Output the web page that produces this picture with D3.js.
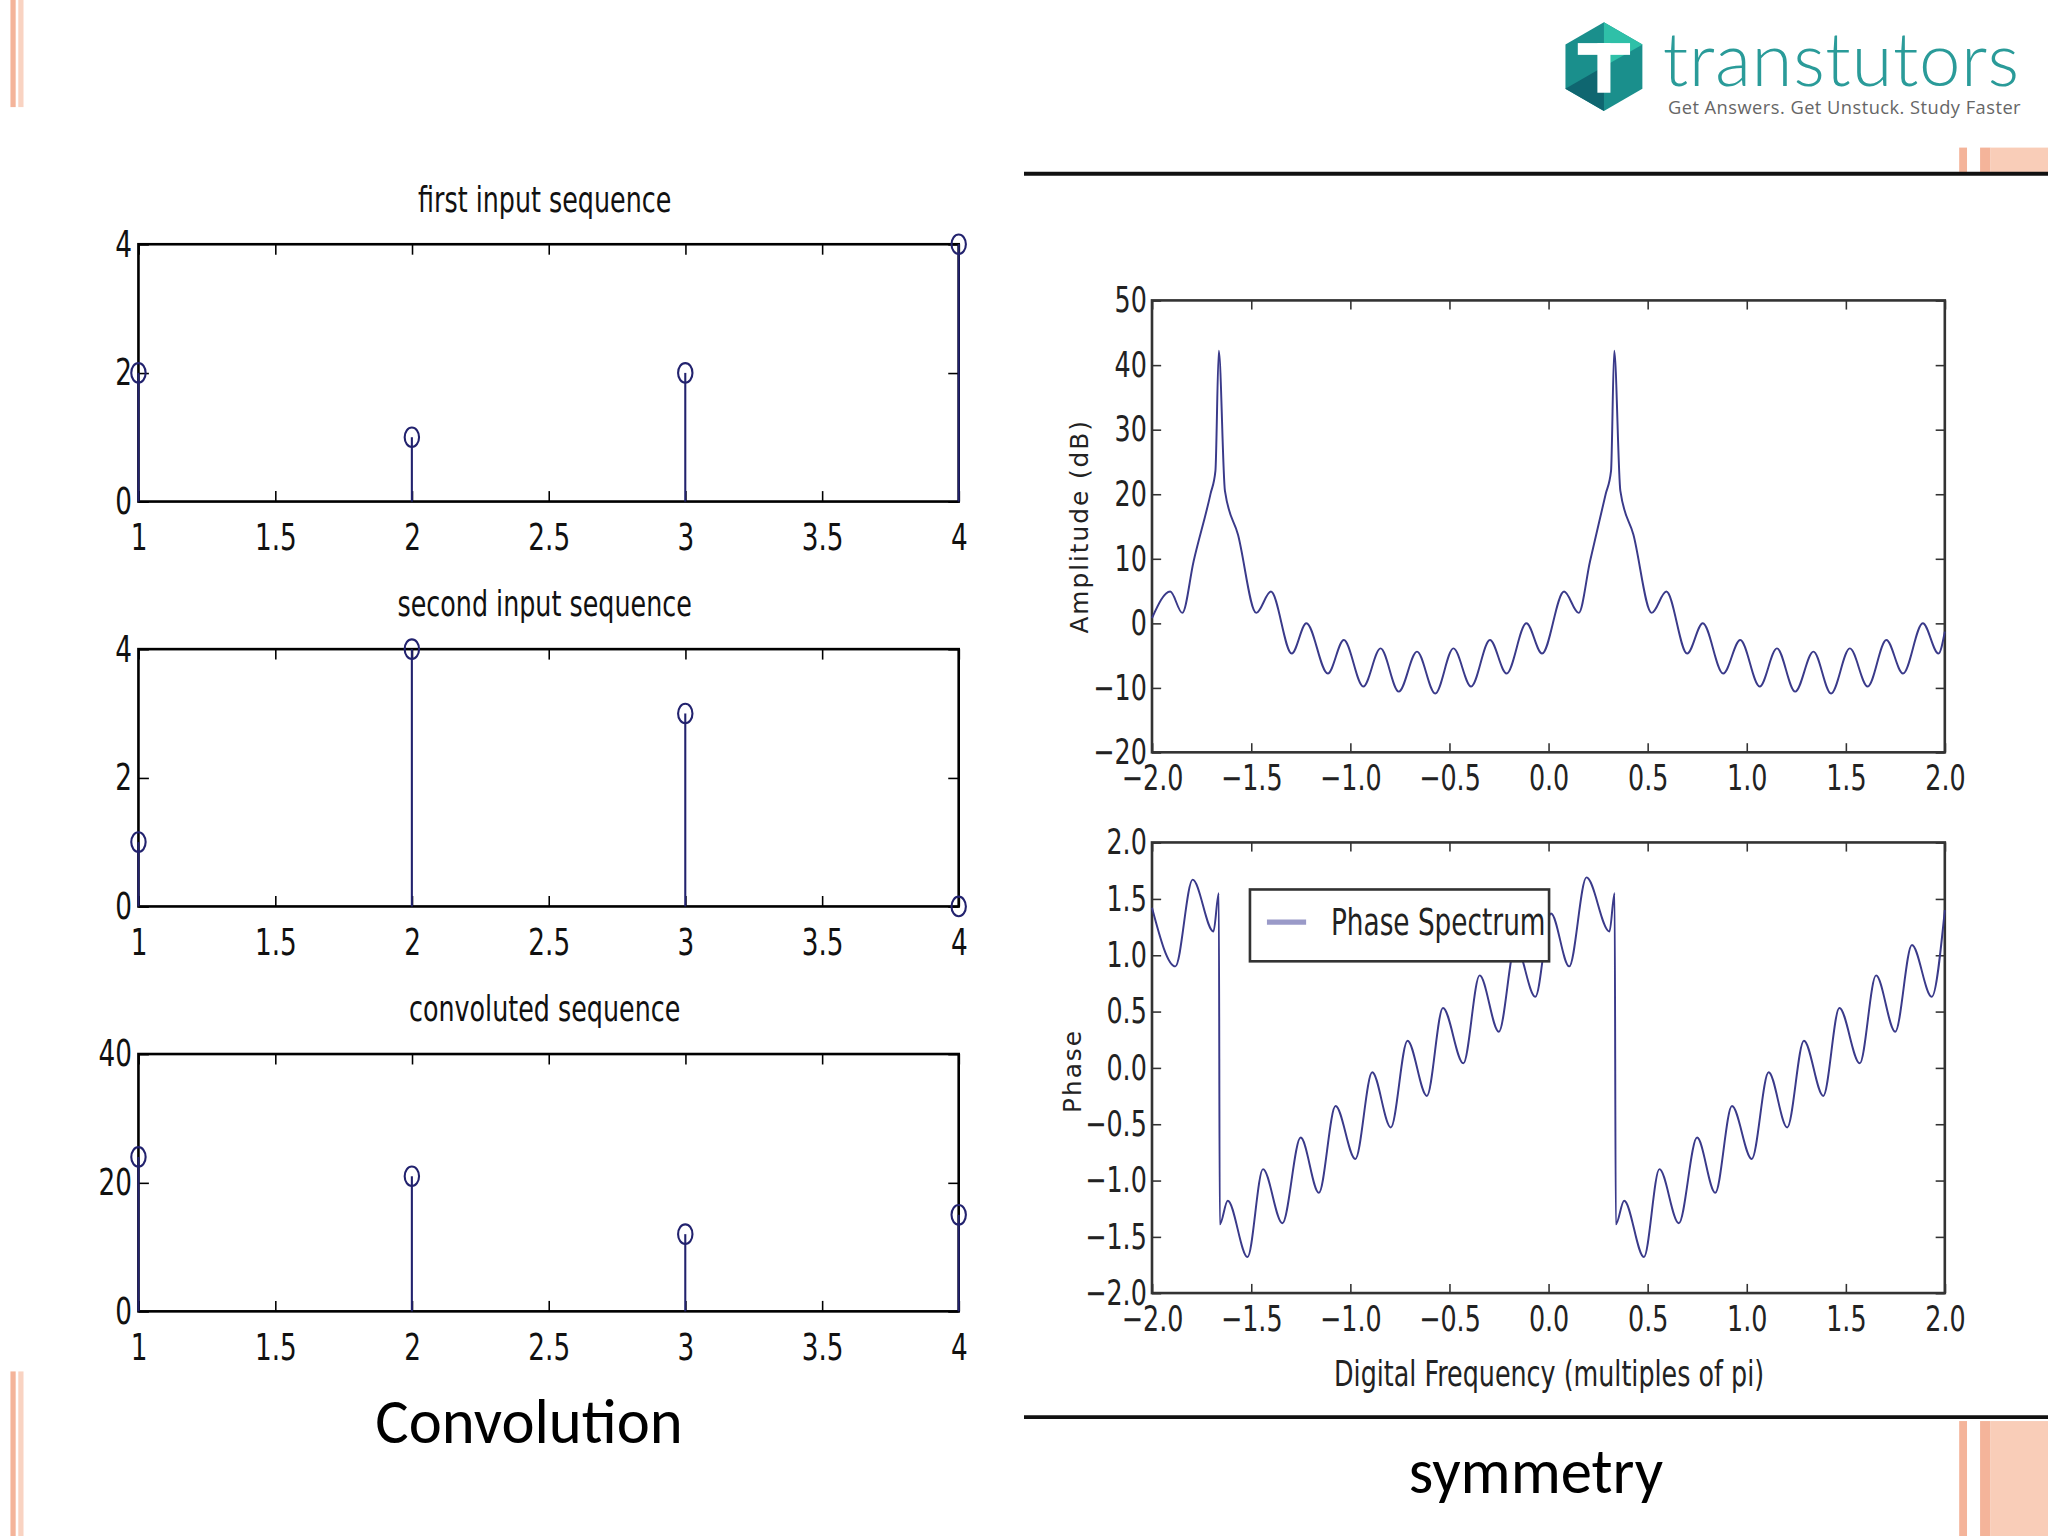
<!DOCTYPE html>
<html><head><meta charset="utf-8">
<script src="https://cdn.jsdelivr.net/npm/d3@7/dist/d3.min.js"></script>
<style>body{margin:0;background:#fff}svg{display:block}</style>
</head><body>
<svg id="c" width="2048" height="1536" viewBox="0 0 1568 1176"></svg>
<script>
// ---- data ----
const stemX = [1, 2, 3, 4];
const firstSeq = [2, 1, 2, 4];
const secondSeq = [1, 4, 3, 0];
const convSeq = [24, 21, 12, 15];
const stemXTicks = [1, 1.5, 2, 2.5, 3, 3.5, 4];
const stemTitles = ["first input sequence", "second input sequence", "convoluted sequence"];

const ampX = [-2,-1.908,-1.847,-1.79,-1.705,-1.68,-1.663,-1.632,-1.566,-1.474,-1.4,-1.295,-1.221,-1.113,-1.032,-0.934,-0.847,-0.755,-0.663,-0.571,-0.479,-0.39,-0.295,-0.211,-0.111,-0.032,0.079,0.153,0.21,0.289,0.316,0.332,0.363,0.429,0.521,0.595,0.7,0.779,0.882,0.968,1.066,1.153,1.245,1.337,1.426,1.521,1.611,1.705,1.789,1.889,1.968,2.0];
const ampY = [0.8,4.9,1.6,9.6,20,23.6,42.2,20.5,13.7,1.6,4.9,-4.7,0,-7.8,-2.6,-9.8,-3.9,-10.6,-4.4,-10.9,-3.9,-9.8,-2.6,-7.8,0,-4.7,4.9,1.6,9.6,20,23.6,42.2,20.5,13.7,1.6,4.9,-4.7,0,-7.8,-2.6,-9.8,-3.9,-10.6,-4.4,-10.9,-3.9,-9.8,-2.6,-7.8,0,-4.7,-1.3];

const phX = [-2,-1.882,-1.795,-1.69,-1.663,-1.658,-1.618,-1.518,-1.44,-1.342,-1.25,-1.158,-1.074,-0.974,-0.889,-0.795,-0.711,-0.613,-0.532,-0.429,-0.347,-0.25,-0.166,-0.066,0.013,0.105,0.192,0.308,0.334,0.34,0.382,0.482,0.56,0.658,0.75,0.842,0.926,1.026,1.111,1.205,1.289,1.387,1.468,1.571,1.653,1.75,1.834,1.934,2.0];
const phY = [1.42,0.9,1.67,1.21,1.55,-1.39,-1.18,-1.68,-0.9,-1.38,-0.62,-1.11,-0.34,-0.81,-0.04,-0.53,0.24,-0.25,0.53,0.04,0.82,0.32,1.09,0.63,1.37,0.9,1.69,1.21,1.55,-1.39,-1.18,-1.68,-0.9,-1.38,-0.62,-1.11,-0.34,-0.81,-0.04,-0.53,0.24,-0.25,0.53,0.04,0.82,0.32,1.09,0.63,1.4];
const freqTicks = [-2,-1.5,-1,-0.5,0,0.5,1,1.5,2];
const ampTicks = [-20,-10,0,10,20,30,40,50];
const phTicks = [-2,-1.5,-1,-0.5,0,0.5,1,1.5,2];

const svg = d3.select("#c");
const FONT = "'DejaVu Sans',sans-serif";
const SX = 0.72;
const navy = "#22226e";

function ctext(x, y, str, size, anchor, fill){
  return svg.append("text").attr("transform",`translate(${x},${y}) scale(${SX},1)`).attr("text-anchor",anchor||"middle")
    .attr("font-family",FONT).attr("font-size",size).attr("fill",fill||"#111").text(str);
}
function condenseAxisText(a, size, fill){
  a.selectAll("text").each(function(){
    const t = d3.select(this); const x = +t.attr("x")||0;
    t.attr("x", x/SX).attr("transform",`scale(${SX},1)`);
  }).attr("font-family",FONT).attr("font-size",size).attr("fill",fill);
}

// decorations
[[0,82],[1050,126]].forEach(([y,h])=>{
  svg.append("rect").attr("x",8).attr("y",y).attr("width",4).attr("height",h).attr("fill","#f4b49a");
  svg.append("rect").attr("x",14).attr("y",y).attr("width",4).attr("height",h).attr("fill","#f9d3c2");
});
[[113,20],[1088,88]].forEach(([y,h])=>{
  svg.append("rect").attr("x",1500).attr("y",y).attr("width",6).attr("height",h).attr("fill","#f4b49a");
  svg.append("rect").attr("x",1516).attr("y",y).attr("width",8).attr("height",h).attr("fill","#f4b49a");
  svg.append("rect").attr("x",1524).attr("y",y).attr("width",44).attr("height",h).attr("fill","#f9cdb8");
});
svg.append("line").attr("x1",784).attr("x2",1568).attr("y1",133).attr("y2",133).attr("stroke","#111").attr("stroke-width",3);
svg.append("line").attr("x1",784).attr("x2",1568).attr("y1",1085).attr("y2",1085).attr("stroke","#111").attr("stroke-width",3);

// logo
const hx=1228, hy=51, hr=34;
const hex = d3.range(6).map(i=>[hx+hr*Math.cos(Math.PI/6+i*Math.PI/3), hy+hr*Math.sin(Math.PI/6+i*Math.PI/3)]);
svg.append("polygon").attr("points",hex.map(p=>p.join(",")).join(" ")).attr("fill","#1a8f8c");
svg.append("polygon").attr("points",[[hx,hy-hr],[hx+hr*0.87,hy-hr/2],[hx,hy]].map(p=>p.join(",")).join(" ")).attr("fill","#2fc0a8");
svg.append("polygon").attr("points",[[hx-hr*0.87,hy+hr/2],[hx,hy+hr],[hx,hy]].map(p=>p.join(",")).join(" ")).attr("fill","#0f6670");
svg.append("rect").attr("x",hx-20).attr("y",hy-18).attr("width",40).attr("height",9).attr("fill","#fff");
svg.append("rect").attr("x",hx-5).attr("y",hy-18).attr("width",10).attr("height",38).attr("fill","#fff");
svg.append("text").attr("x",1273).attr("y",66).attr("font-family","Lato, sans-serif").attr("font-size",57).attr("font-weight",300).attr("fill","#2a9b99").attr("textLength",273).text("transtutors");
svg.append("text").attr("x",1277).attr("y",87).attr("font-family","'Open Sans', sans-serif").attr("font-size",14).attr("fill","#666").attr("textLength",270).text("Get Answers. Get Unstuck. Study Faster");

// ---- stem plots ----
const stemPanels = [
  {y0:187, data:firstSeq, dom:[0,4], ticks:[0,2,4]},
  {y0:497, data:secondSeq, dom:[0,4], ticks:[0,2,4]},
  {y0:807, data:convSeq, dom:[0,40], ticks:[0,20,40]},
];
stemPanels.forEach((p,i)=>{
  const x = d3.scaleLinear().domain([1,4]).range([106,734]);
  const y = d3.scaleLinear().domain(p.dom).range([p.y0+197,p.y0]);
  const g = svg.append("g");
  const style = a=>{a.selectAll("path.domain").remove();a.selectAll("line").attr("stroke","#000").attr("stroke-width",1.2);
    condenseAxisText(a,28,"#111");};
  g.append("g").attr("transform",`translate(0,${p.y0+197})`).call(d3.axisBottom(x).tickValues(stemXTicks).tickSize(-8).tickPadding(17).tickFormat(d3.format("~g"))).call(style);
  g.append("g").attr("transform",`translate(0,${p.y0})`).call(d3.axisTop(x).tickValues(stemXTicks).tickSize(-8).tickFormat("")).call(style);
  g.append("g").attr("transform",`translate(106,0)`).call(d3.axisLeft(y).tickValues(p.ticks).tickSize(-8).tickPadding(5).tickFormat(d3.format("d"))).call(style);
  g.append("g").attr("transform",`translate(734,0)`).call(d3.axisRight(y).tickValues(p.ticks).tickSize(-8).tickFormat("")).call(style);
  g.append("rect").attr("x",106).attr("y",p.y0).attr("width",628).attr("height",197).attr("fill","none").attr("stroke","#000").attr("stroke-width",2);
  g.selectAll(".stem").data(p.data).join("line").attr("x1",(d,j)=>x(stemX[j])).attr("x2",(d,j)=>x(stemX[j]))
    .attr("y1",y(0)).attr("y2",d=>y(d)).attr("stroke",navy).attr("stroke-width",1.6);
  g.selectAll(".mk").data(p.data).join("ellipse").attr("cx",(d,j)=>x(stemX[j])).attr("cy",d=>y(d)).attr("rx",5.5).attr("ry",7.5)
    .attr("fill","none").attr("stroke",navy).attr("stroke-width",1.6);
  ctext(417, p.y0-25, stemTitles[i], 27);
});
svg.append("text").attr("x",405).attr("y",1105).attr("text-anchor","middle").attr("font-family","Carlito, 'Open Sans', sans-serif").attr("font-size",48).attr("fill","#000").text("Convolution");
svg.append("text").attr("x",1176).attr("y",1143).attr("text-anchor","middle").attr("font-family","Carlito, 'Open Sans', sans-serif").attr("font-size",48).attr("fill","#000").text("symmetry");

// ---- spectrum plots ----
const fx = d3.scaleLinear().domain([-2,2]).range([882,1489]);
const minusFmt = f=>d=>f(d).replace("-","\u2212");
function specAxes(y, y0, y1, yt, yfmt){
  const style = a=>{a.selectAll("path.domain").remove();a.selectAll("line").attr("stroke","#333").attr("stroke-width",1.2);
    condenseAxisText(a,27,"#222");};
  svg.append("g").attr("transform",`translate(0,${y1})`).call(d3.axisBottom(fx).tickValues(freqTicks).tickSize(-7).tickPadding(10).tickFormat(minusFmt(d3.format(".1f")))).call(style);
  svg.append("g").attr("transform",`translate(0,${y0})`).call(d3.axisTop(fx).tickValues(freqTicks).tickSize(-7).tickFormat("")).call(style);
  svg.append("g").attr("transform",`translate(882,0)`).call(d3.axisLeft(y).tickValues(yt).tickSize(-7).tickPadding(4).tickFormat(minusFmt(yfmt))).call(style);
  svg.append("g").attr("transform",`translate(1489,0)`).call(d3.axisRight(y).tickValues(yt).tickSize(-7).tickFormat("")).call(style);
  svg.append("rect").attr("x",882).attr("y",y0).attr("width",607).attr("height",y1-y0).attr("fill","none").attr("stroke","#333").attr("stroke-width",2);
}
const ay = d3.scaleLinear().domain([-20,50]).range([576,230]);
specAxes(ay,230,576,ampTicks,d3.format("d"));
svg.append("path").datum(ampX.map((v,i)=>[v,ampY[i]])).attr("fill","none").attr("stroke","#3a3a8a").attr("stroke-width",1.5)
  .attr("d",d3.line().x(d=>fx(d[0])).y(d=>ay(d[1])).curve(d3.curveMonotoneX));
svg.append("text").attr("transform","translate(833,403) rotate(-90)").attr("text-anchor","middle").attr("font-family",FONT).attr("font-size",19).attr("letter-spacing",1.5).attr("fill","#222").text("Amplitude (dB)");

const py = d3.scaleLinear().domain([-2,2]).range([990,645]);
specAxes(py,645,990,phTicks,d3.format(".1f"));
svg.append("path").datum(phX.map((v,i)=>[v,phY[i]])).attr("fill","none").attr("stroke","#3a3a8a").attr("stroke-width",1.5)
  .attr("d",d3.line().x(d=>fx(d[0])).y(d=>py(d[1])).curve(d3.curveMonotoneX));
svg.append("text").attr("transform","translate(828,820) rotate(-90)").attr("text-anchor","middle").attr("font-family",FONT).attr("font-size",19).attr("letter-spacing",1.5).attr("fill","#222").text("Phase");
ctext(1186, 1061, "Digital Frequency (multiples of pi)", 27, "middle", "#222");
// legend
svg.append("rect").attr("x",957).attr("y",681).attr("width",229).attr("height",55).attr("fill","#fff").attr("stroke","#333").attr("stroke-width",2);
svg.append("line").attr("x1",970).attr("x2",1000).attr("y1",706).attr("y2",706).attr("stroke","#9a9ac8").attr("stroke-width",4);
ctext(1019, 716, "Phase Spectrum", 28, "start", "#222");
</script>
</body></html>
